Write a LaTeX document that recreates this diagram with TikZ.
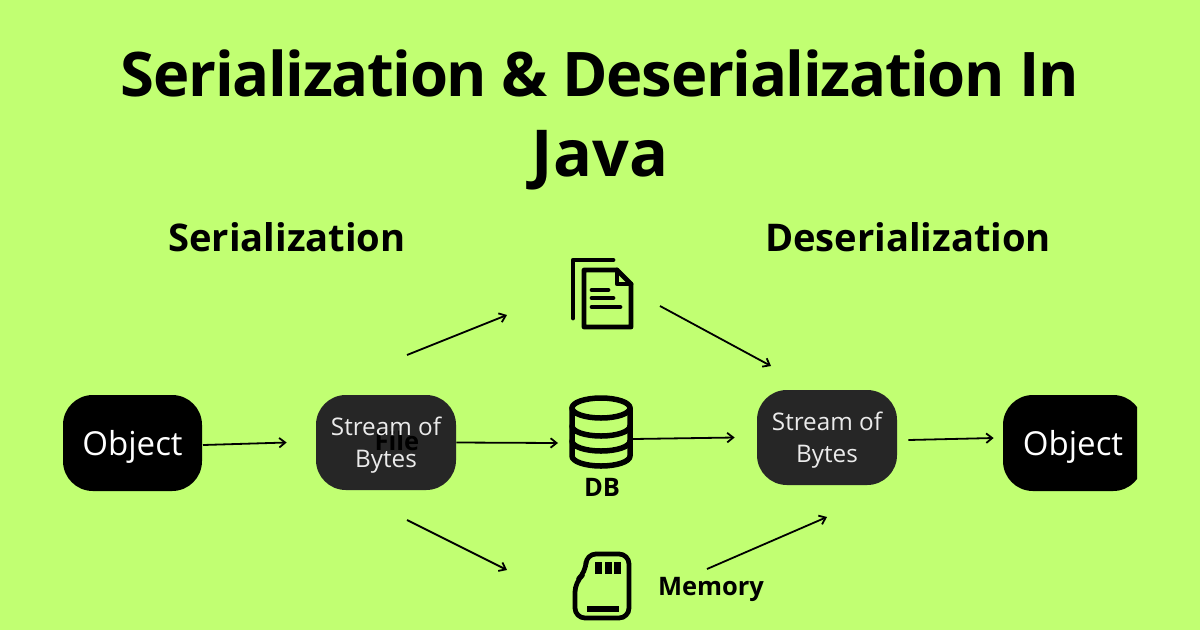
\documentclass[tikz,border=0pt]{standalone}
\usepackage{fontspec}
\setmainfont{Open Sans}
\usetikzlibrary{arrows.meta}
\definecolor{limebg}{HTML}{C1FF72}
\definecolor{streamgray}{HTML}{262626}
\tikzset{
  title/.style={font=\bfseries\fontsize{35}{40}\selectfont\addfontfeature{LetterSpace=-2.2},text=black},
  heading/.style={font=\bfseries\fontsize{21.7}{25}\selectfont,text=black},
  iconlabel/.style={font=\bfseries\fontsize{14.5}{16}\selectfont,text=black},
  objectbox/.style={fill=black,text=white,rounded corners=17pt,inner sep=0pt,
    minimum width=27.8mm,minimum height=19.2mm,font=\fontsize{18.8}{22}\selectfont},
  streambox/.style={fill=streamgray,text=white!92!black,rounded corners=17pt,inner sep=0pt,align=center,
    minimum width=28mm,minimum height=19mm,font=\fontsize{13.8}{18.1}\selectfont},
  flow/.style={line width=0.36mm,-{Straight Barb[length=1.2mm,width=1.9mm]}},
  icon/.style={line width=0.95mm,line cap=round,line join=round}
}
\newcommand{\objtext}{\raisebox{-2.4mm}[0pt][0pt]{Object}}
\begin{document}
\begin{tikzpicture}[x=0.2mm,y=-0.2mm]
  \fill[limebg] (0,0) rectangle (1200,630);
  \useasboundingbox (0,0) rectangle (1200,630);

  \node[title] (titleone) at (600,73) {Serialization \& Deserialization In};
  \node[title,font=\bfseries\fontsize{36.8}{40}\selectfont] (titletwo) at (600,160) {Java};
  \node[heading] (serhead) at (287,237) {Serialization};
  \node[heading] (deserhead) at (908,237) {Deserialization};

  \node[objectbox] (objectleft) at (132.5,443) {\objtext};
  \node[streambox] (streamleft) at (386,442.5) {};
  \node[iconlabel] (filelabel) at (397,441) {File};
  \node[streambox,fill=none] (streamtext) at (386,445) {Stream of\\Bytes};
  \node[streambox] (streamright) at (827,437.5) {};
  \node[streambox,fill=none] (streamrighttext) at (827,440.5) {Stream of\\Bytes};
  \begin{scope}
    \clip (0,0) rectangle (1137,630);
    \node[objectbox,minimum width=28mm] (objectright) at (1073,443) {\objtext};
  \end{scope}

  \node[iconlabel] (dblabel) at (602,487) {DB};
  \node[iconlabel] (memlabel) at (711,589) {Memory};

  % file icon
  \draw[icon] (573,318) -- (573,260) -- (613,260);
  \draw[icon] (584,270) -- (617,270) -- (631,284) -- (631,327) -- (584,327) -- cycle;
  \draw[icon] (617,270) -- (617,284) -- (631,284);
  \draw[icon] (592,290) -- (608,290);
  \draw[icon] (592,298) -- (613,298);
  \draw[icon] (592,307) -- (620,307);

  % database icon
  \draw[icon,line width=1.1mm] (601,408) ellipse [x radius=29,y radius=10];
  \draw[icon,line width=1.1mm] (572,408) -- (572,456) arc [start angle=180,end angle=0,x radius=29,y radius=10] -- (630,408);
  \draw[icon,line width=1.1mm] (572,426) arc [start angle=180,end angle=0,x radius=29,y radius=10];
  \draw[icon,line width=1.1mm] (572,441) arc [start angle=180,end angle=0,x radius=29,y radius=10];

  % memory card icon
  \draw[icon,rounded corners=2mm] (575,618) -- (575,582) -- (586,572) -- (586,554) -- (629,554) -- (629,618) -- cycle;
  \foreach \cx in {595,605,614}
    \fill (\cx,562) rectangle (\cx+7,574);
  \fill (587,606) rectangle (619,612);

  \coordinate (fileinend) at (507,315);
  \coordinate (fileinstart) at (407,355);
  \coordinate (meminend) at (507,570);
  \coordinate (meminstart) at (407,520);
  \coordinate (fileoutstart) at (660,306);
  \coordinate (fileoutend) at (771,366);
  \coordinate (memoutstart) at (707,569);
  \coordinate (memoutend) at (827,517);
  \coordinate (objoutstart) at (203,445);
  \coordinate (dbinend) at (558,443);
  \coordinate (dboutstart) at (633,439);

  \draw[flow] (objoutstart) -- ([xshift=-5.8mm]streamleft.west);
  \draw[flow] (streamleft.east) -- (dbinend);
  \draw[flow] (fileinstart) -- (fileinend);
  \draw[flow] (meminstart) -- (meminend);
  \draw[flow] (fileoutstart) -- (fileoutend);
  \draw[flow] (dboutstart) -- ([xshift=-4.4mm]streamright.west);
  \draw[flow] (memoutstart) -- (memoutend);
  \draw[flow] ([xshift=2.2mm,yshift=-0.5mm]streamright.east) -- ([xshift=-1.8mm,yshift=1mm]objectright.west);
\end{tikzpicture}
\end{document}
